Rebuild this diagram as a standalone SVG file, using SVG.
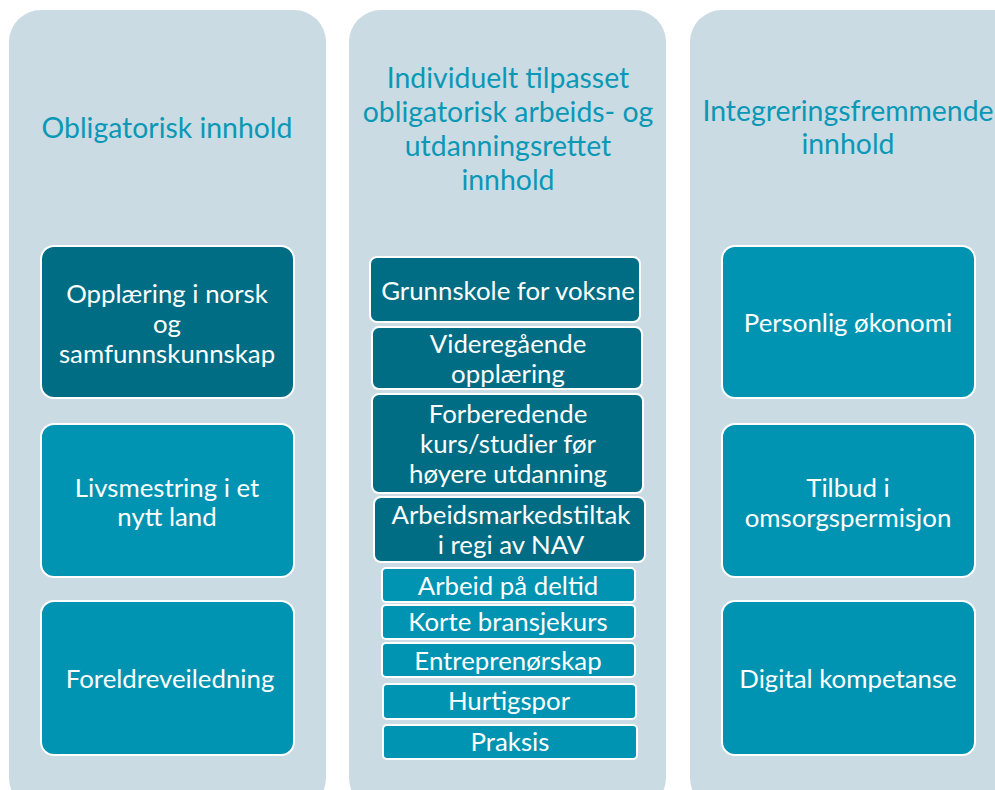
<svg xmlns="http://www.w3.org/2000/svg" width="995" height="790" viewBox="0 0 995 790">
<style>
.col{fill:#CBDBE3}
.dk{fill:#006D84;stroke:#fff;stroke-width:2}
.lt{fill:#0094B2;stroke:#fff;stroke-width:2}
.h{font-family:Lato,"Liberation Sans",sans-serif;font-size:28.4px;fill:#0A98B6;text-anchor:middle;dominant-baseline:central}
.t{font-family:Lato,"Liberation Sans",sans-serif;font-size:25.8px;fill:#fff;text-anchor:middle;dominant-baseline:central}
</style>
<rect width="995" height="790" fill="#fff"/>
<g id="col1">
<rect class="col" x="9" y="10" width="317" height="800" rx="32"/>
<text class="h" x="167" y="127">Obligatorisk innhold</text>
</g>
<g id="col2">
<rect class="col" x="349" y="10" width="317" height="800" rx="32"/>
<text class="h" x="508" y="77">Individuelt tilpasset</text>
<text class="h" x="508" y="111">obligatorisk arbeids- og</text>
<text class="h" x="508" y="145">utdanningsrettet</text>
<text class="h" x="508" y="179">innhold</text>
</g>
<g id="col3">
<rect class="col" x="690" y="10" width="340" height="800" rx="32"/>
<text class="h" x="848" y="110">Integreringsfremmende</text>
<text class="h" x="848" y="143">innhold</text>
</g>
<g id="n-opplaering">
<rect class="dk" x="41" y="246" width="253" height="152" rx="13"/>
<text class="t" x="167" y="293">Opplæring i norsk</text>
<text class="t" x="167" y="323">og</text>
<text class="t" x="167" y="353">samfunnskunnskap</text>
</g>
<g id="n-livsmestring">
<rect class="lt" x="41" y="424" width="253" height="153" rx="13"/>
<text class="t" x="167" y="487">Livsmestring i et</text>
<text class="t" x="167" y="516">nytt land</text>
</g>
<g id="n-foreldre">
<rect class="lt" x="41" y="601" width="253" height="154" rx="13"/>
<text class="t" x="170" y="678">Foreldreveiledning</text>
</g>
<g id="n-grunnskole">
<rect class="dk" x="370" y="257" width="270" height="65" rx="7"/>
<text class="t" x="508" y="290">Grunnskole for voksne</text>
</g>
<g id="n-vgs">
<rect class="dk" x="372" y="327" width="270" height="62" rx="7"/>
<text class="t" x="508" y="343">Videregående</text>
<text class="t" x="508" y="373">opplæring</text>
</g>
<g id="n-forberedende">
<rect class="dk" x="372" y="394" width="271" height="99" rx="7"/>
<text class="t" x="508" y="413">Forberedende</text>
<text class="t" x="508" y="443">kurs/studier før</text>
<text class="t" x="508" y="473">høyere utdanning</text>
</g>
<g id="n-nav">
<rect class="dk" x="374" y="497" width="271" height="65" rx="7"/>
<text class="t" x="511" y="514">Arbeidsmarkedstiltak</text>
<text class="t" x="511" y="544">i regi av NAV</text>
</g>
<g id="n-deltid">
<rect class="lt" x="382" y="568" width="253" height="34" rx="4"/>
<text class="t" x="508" y="585">Arbeid på deltid</text>
</g>
<g id="n-korte">
<rect class="lt" x="382" y="605" width="253" height="34" rx="4"/>
<text class="t" x="508" y="621">Korte bransjekurs</text>
</g>
<g id="n-entre">
<rect class="lt" x="382" y="643" width="253" height="34" rx="4"/>
<text class="t" x="508" y="660">Entreprenørskap</text>
</g>
<g id="n-hurtig">
<rect class="lt" x="383" y="684" width="253" height="35" rx="4"/>
<text class="t" x="509" y="700">Hurtigspor</text>
</g>
<g id="n-praksis">
<rect class="lt" x="383" y="725" width="254" height="34" rx="4"/>
<text class="t" x="510" y="741">Praksis</text>
</g>
<g id="n-okonomi">
<rect class="lt" x="722" y="246" width="253" height="152" rx="13"/>
<text class="t" x="848" y="322">Personlig økonomi</text>
</g>
<g id="n-omsorg">
<rect class="lt" x="722" y="424" width="253" height="153" rx="13"/>
<text class="t" x="848" y="487">Tilbud i</text>
<text class="t" x="848" y="517">omsorgspermisjon</text>
</g>
<g id="n-digital">
<rect class="lt" x="722" y="601" width="253" height="154" rx="13"/>
<text class="t" x="848" y="678">Digital kompetanse</text>
</g>
<g id="connectors"/>
</svg>
